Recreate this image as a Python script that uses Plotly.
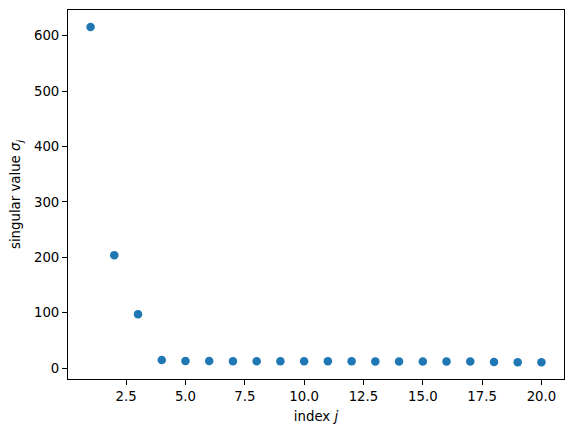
import plotly.graph_objects as go

index_j = list(range(1, 21))
singular_values = [616, 204, 97.5, 14.5, 12.8, 12.7, 12.6, 12.5, 12.5, 12.4,
                   12.3, 12.3, 12.2, 12.1, 12.0, 12.0, 11.9, 11.0, 10.8, 10.7]
x_ticks = [2.5, 5.0, 7.5, 10.0, 12.5, 15.0, 17.5, 20.0]
y_ticks = [0, 100, 200, 300, 400, 500, 600]

fig = go.Figure(go.Scatter(
    x=index_j, y=singular_values, mode='markers',
    marker=dict(color='#1f77b4', size=8.5, line=dict(width=0)),
))

axis_style = dict(
    showline=True, linecolor='black', linewidth=1, mirror=True,
    ticks='outside', ticklen=5, tickwidth=1, tickcolor='black',
    showgrid=False, zeroline=False, automargin=False,
    tickfont=dict(family='DejaVu Sans', size=13.3, color='black'),
)
title_font = dict(family='DejaVu Sans', size=13.3, color='black')

fig.update_layout(
    width=574, height=433,
    margin=dict(l=68, r=10, t=10, b=54),
    paper_bgcolor='white', plot_bgcolor='white',
    showlegend=False,
    font=dict(family='DejaVu Sans', size=13.3, color='black'),
    xaxis=dict(range=[0.05, 20.95], tickvals=x_ticks,
               ticktext=[f'{v:.1f}' for v in x_ticks],
               title=dict(text='index <i>j</i>', standoff=8, font=title_font), **axis_style),
    yaxis=dict(range=[-19.6, 646.5], tickvals=y_ticks,
               title=dict(text='singular value <i>σ<sub>j</sub></i>', standoff=10, font=title_font),
               **axis_style),
)

# drop the browser's default body margin so the figure sits at the page corner
fig.write_html("out.html", config={'displayModeBar': False},
               post_script="document.body.style.margin='0';")
